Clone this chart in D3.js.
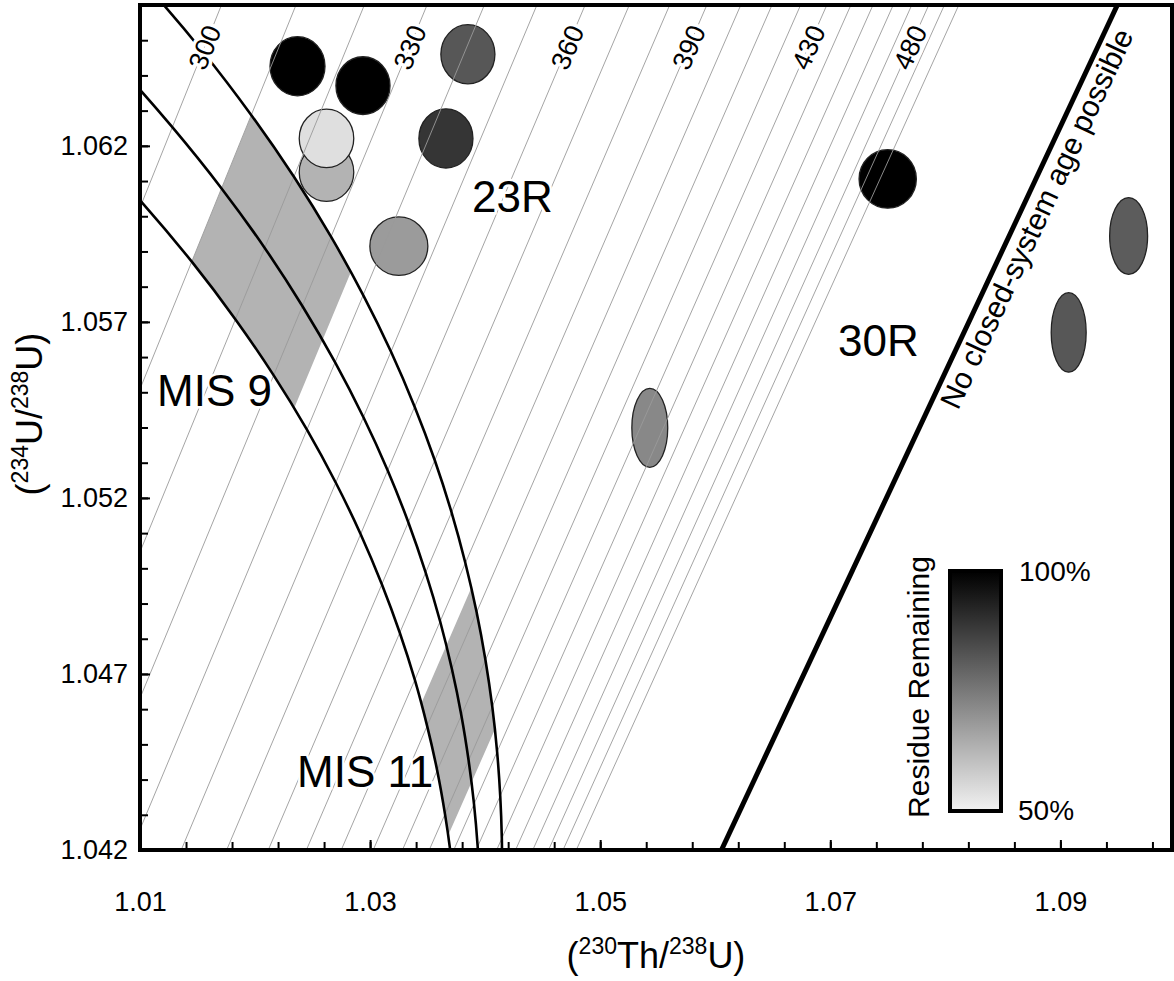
<!DOCTYPE html>
<html>
<head>
<meta charset="utf-8">
<script src="https://cdn.jsdelivr.net/npm/d3@7"></script>
<style>
body { margin: 0; background: #fff; }
text { font-family: "Liberation Sans", Arial, Helvetica, sans-serif; fill: #000; }
</style>
</head>
<body>
<div id="chart"></div>
<script>
var width = 1174, height = 981;

// isochrons (ka): 230Th/238U where each line meets 234U/238U = 1.066 (top) and 1.042 (bottom)
var isoAge = [300, 310, 320, 330, 340, 350, 360, 370, 380, 390, 400, 410, 420, 430, 440, 450, 460, 470, 480, 490, 500];
var isoTop = [1.01708, 1.02356, 1.02950, 1.03495, 1.03993, 1.04450, 1.04869, 1.05253, 1.05604, 1.05927, 1.06222,
  1.06493, 1.06742, 1.06970, 1.07179, 1.07371, 1.07547, 1.07708, 1.07856, 1.07992, 1.08117];
var isoBottom = [0.98756, 0.99372, 0.99937, 1.00453, 1.00925, 1.01358, 1.01753, 1.02115, 1.02446, 1.02749, 1.03027,
  1.03281, 1.03514, 1.03727, 1.03922, 1.04100, 1.04264, 1.04414, 1.04551, 1.04677, 1.04792];
var isoLabelled = [300, 330, 360, 390, 430, 480];

// evolution curves of initial d234U (points [230Th/238U, 234U/238U])
var curveHigh = [[0.98429, 1.07449], [0.99209, 1.07242], [0.99903, 1.07040], [1.00519, 1.06844], [1.01064, 1.06653],
  [1.01545, 1.06468], [1.01968, 1.06287], [1.02338, 1.06112], [1.02660, 1.05942], [1.02940, 1.05776], [1.03182, 1.05615],
  [1.03387, 1.05459], [1.03562, 1.05307], [1.03708, 1.05159], [1.03828, 1.05015], [1.03926, 1.04875], [1.04003, 1.04739],
  [1.04062, 1.04607], [1.04104, 1.04479], [1.04131, 1.04354], [1.04145, 1.04233], [1.04147, 1.04115]];
var curveMid = [[0.98146, 1.07203], [0.98929, 1.07002], [0.99627, 1.06807], [1.00247, 1.06617], [1.00796, 1.06433],
  [1.01281, 1.06253], [1.01709, 1.06079], [1.02084, 1.05910], [1.02411, 1.05745], [1.02696, 1.05585], [1.02942, 1.05429],
  [1.03153, 1.05278], [1.03332, 1.05131], [1.03483, 1.04988], [1.03609, 1.04849], [1.03711, 1.04714], [1.03793, 1.04583],
  [1.03856, 1.04455], [1.03903, 1.04331], [1.03935, 1.04210], [1.03954, 1.04093]];
var curveLow = [[0.97862, 1.06956], [0.98649, 1.06762], [0.99351, 1.06574], [0.99975, 1.06391], [1.00528, 1.06212],
  [1.01018, 1.06039], [1.01450, 1.05871], [1.01830, 1.05707], [1.02162, 1.05548], [1.02451, 1.05394], [1.02702, 1.05243],
  [1.02918, 1.05097], [1.03102, 1.04955], [1.03258, 1.04817], [1.03389, 1.04683], [1.03496, 1.04552], [1.03583, 1.04426],
  [1.03651, 1.04302], [1.03703, 1.04182], [1.03740, 1.04066]];

// MIS bands on the evolution curves
var mis9 = [[1.01450, 1.05871], [1.01968, 1.06287], [1.02338, 1.06112], [1.02660, 1.05942], [1.02833, 1.05842],
  [1.02340, 1.05455], [1.02162, 1.05548], [1.01830, 1.05707]];
var mis11 = [[1.03445, 1.04617], [1.03880, 1.04945], [1.03926, 1.04875], [1.04003, 1.04739], [1.04062, 1.04607],
  [1.04085, 1.04543], [1.03679, 1.04242], [1.03651, 1.04302], [1.03583, 1.04426], [1.03496, 1.04552]];

var limitLine = [[1.06054, 1.042], [1.09495, 1.066]];

// samples
var thU = [1.02369, 1.02938, 1.03850, 1.02621, 1.02621, 1.03659, 1.03250, 1.07499, 1.05431, 1.09593, 1.09072];
var thErr = [0.00239, 0.00235, 0.00235, 0.00237, 0.00237, 0.00235, 0.00252, 0.00249, 0.00156, 0.00165, 0.00152];
var uU = [1.06426, 1.06371, 1.06460, 1.06125, 1.06221, 1.06221, 1.05915, 1.06106, 1.05399, 1.05944, 1.05670];
var uErr = [0.00084, 0.00082, 0.00084, 0.00083, 0.00083, 0.00084, 0.00083, 0.00083, 0.00112, 0.00109, 0.00113];
var residue = [100, 100, 82, 63, 54, 89, 68, 100, 72, 81, 82];

var xTicks = [1.01, 1.03, 1.05, 1.07, 1.09];
var yTicks = [1.042, 1.047, 1.052, 1.057, 1.062];

var svg = d3.select("#chart").append("svg").attr("width", width).attr("height", height);

var x = d3.scaleLinear().domain([1.01, 1.0997]).range([140, 1172]);
var y = d3.scaleLinear().domain([1.042, 1.066]).range([850, 5]);
var grey = d3.scaleLinear().domain([50, 100]).range(["#f2f2f2", "#000000"]);

svg.append("clipPath").attr("id", "plot").append("rect")
    .attr("x", 140).attr("y", 5).attr("width", 1032).attr("height", 845);

var plot = svg.append("g").attr("clip-path", "url(#plot)");
var line = d3.line().x(function(d) { return x(d[0]); }).y(function(d) { return y(d[1]); });

plot.selectAll("path.band").data([mis9, mis11]).join("path")
    .attr("class", "band")
    .attr("d", function(d) { return line(d) + "Z"; })
    .attr("fill", "#b3b3b3");

plot.selectAll("ellipse").data(thU).join("ellipse")
    .attr("cx", function(d) { return x(d); })
    .attr("cy", function(d, i) { return y(uU[i]); })
    .attr("rx", function(d, i) { return x(d + thErr[i]) - x(d); })
    .attr("ry", function(d, i) { return y(uU[i]) - y(uU[i] + uErr[i]); })
    .attr("fill", function(d, i) { return grey(residue[i]); })
    .attr("stroke", "#222").attr("stroke-width", 1.3);

plot.selectAll("line.iso").data(isoAge).join("line")
    .attr("class", "iso")
    .attr("x1", function(d, i) { return x(isoBottom[i]); })
    .attr("y1", y(1.042))
    .attr("x2", function(d, i) { return x(isoTop[i]); })
    .attr("y2", y(1.066))
    .attr("stroke", "#9a9a9a").attr("stroke-width", 0.9);

var smooth = d3.line().x(function(d) { return x(d[0]); }).y(function(d) { return y(d[1]); })
    .curve(d3.curveCatmullRom);
plot.selectAll("path.evo").data([curveLow, curveMid, curveHigh]).join("path")
    .attr("class", "evo")
    .attr("d", smooth)
    .attr("fill", "none").attr("stroke", "#000").attr("stroke-width", 2.6);

plot.append("path").attr("d", line(limitLine))
    .attr("stroke", "#000").attr("stroke-width", 5).attr("fill", "none");

// axes, ticks point inward
var xMinor = d3.range(0, 23).map(function(i) { return 1.01 + i * 0.004; });
var yMinor = d3.range(0, 25).map(function(i) { return 1.042 + i * 0.001; });

var gx = svg.append("g").attr("transform", "translate(0,850)");
gx.append("g").call(d3.axisBottom(x).tickValues(xMinor).tickSize(-8).tickFormat(""));
gx.append("g").call(d3.axisBottom(x).tickValues(xTicks).tickSize(-10).tickPadding(42)
    .tickFormat(d3.format(".2f")));
var gy = svg.append("g").attr("transform", "translate(140,0)");
gy.append("g").call(d3.axisLeft(y).tickValues(yMinor).tickSize(-8).tickFormat(""));
gy.append("g").call(d3.axisLeft(y).tickValues(yTicks).tickSize(-10).tickPadding(12)
    .tickFormat(d3.format(".3f")));
svg.selectAll(".domain").remove();
svg.selectAll(".tick line").attr("stroke", "#000").attr("stroke-width", 2);
svg.selectAll(".tick text").attr("font-size", 27);

svg.append("rect").attr("x", 140).attr("y", 5).attr("width", 1032).attr("height", 845)
    .attr("fill", "none").attr("stroke", "#000").attr("stroke-width", 4);

// isochron age labels
isoLabelled.forEach(function(a) {
  var i = isoAge.indexOf(a);
  var yv = 1.0648;
  var xv = isoBottom[i] + (isoTop[i] - isoBottom[i]) * (yv - 1.042) / (1.066 - 1.042);
  var ang = Math.atan2(y(1.066) - y(1.042), x(isoTop[i]) - x(isoBottom[i])) * 180 / Math.PI;
  svg.append("text").text(a)
      .attr("transform", "translate(" + x(xv) + "," + y(yv) + ") rotate(" + ang + ")")
      .attr("text-anchor", "middle").attr("dy", "0.36em")
      .attr("font-size", 27)
      .attr("stroke", "#fff").attr("stroke-width", 7).attr("paint-order", "stroke");
});

// limit line label
var lAng = Math.atan2(y(limitLine[1][1]) - y(limitLine[0][1]), x(limitLine[1][0]) - x(limitLine[0][0])) * 180 / Math.PI;
var lf = (1.0546 - limitLine[0][1]) / (limitLine[1][1] - limitLine[0][1]);
var lx = limitLine[0][0] + lf * (limitLine[1][0] - limitLine[0][0]);
svg.append("text").text("No closed-system age possible")
    .attr("transform", "translate(" + x(lx) + "," + y(1.0546) + ") rotate(" + lAng + ")")
    .attr("x", 8).attr("y", 28)
    .attr("font-size", 30);

// region labels
var notes = [["23R", 1.03886, 1.06012], ["30R", 1.07067, 1.05603], ["MIS 9", 1.01148, 1.05461], ["MIS 11", 1.02365, 1.04379]];
svg.selectAll("text.note").data(notes).join("text")
    .attr("class", "note")
    .attr("x", function(d) { return x(d[1]); })
    .attr("y", function(d) { return y(d[2]); })
    .attr("font-size", 44)
    .attr("stroke", "#fff").attr("stroke-width", 5).attr("paint-order", "stroke")
    .text(function(d) { return d[0]; });

// colour bar
var grad = svg.append("defs").append("linearGradient").attr("id", "resid")
    .attr("x1", 0).attr("y1", 0).attr("x2", 0).attr("y2", 1);
[100, 75, 50].forEach(function(p, k) {
  grad.append("stop").attr("offset", k * 0.5).attr("stop-color", grey(p));
});
svg.append("rect").attr("x", 950).attr("y", 571).attr("width", 51).attr("height", 240)
    .attr("fill", "url(#resid)").attr("stroke", "#000").attr("stroke-width", 4);
svg.append("text").attr("x", 1019).attr("y", 581).attr("font-size", 28).text("100%");
svg.append("text").attr("x", 1018).attr("y", 820).attr("font-size", 28).text("50%");
svg.append("text").attr("transform", "translate(929,687) rotate(-90)")
    .attr("text-anchor", "middle").attr("font-size", 30).text("Residue Remaining");

// axis titles
var xt = svg.append("text").attr("x", 656).attr("y", 968).attr("text-anchor", "middle").attr("font-size", 36);
xt.append("tspan").text("(");
xt.append("tspan").attr("font-size", 23).attr("dy", -14).text("230");
xt.append("tspan").attr("dy", 14).text("Th/");
xt.append("tspan").attr("font-size", 23).attr("dy", -14).text("238");
xt.append("tspan").attr("dy", 14).text("U)");

var yt = svg.append("text").attr("transform", "translate(42,414) rotate(-90)")
    .attr("text-anchor", "middle").attr("font-size", 36);
yt.append("tspan").text("(");
yt.append("tspan").attr("font-size", 23).attr("dy", -14).text("234");
yt.append("tspan").attr("dy", 14).text("U/");
yt.append("tspan").attr("font-size", 23).attr("dy", -14).text("238");
yt.append("tspan").attr("dy", 14).text("U)");
</script>
</body>
</html>
